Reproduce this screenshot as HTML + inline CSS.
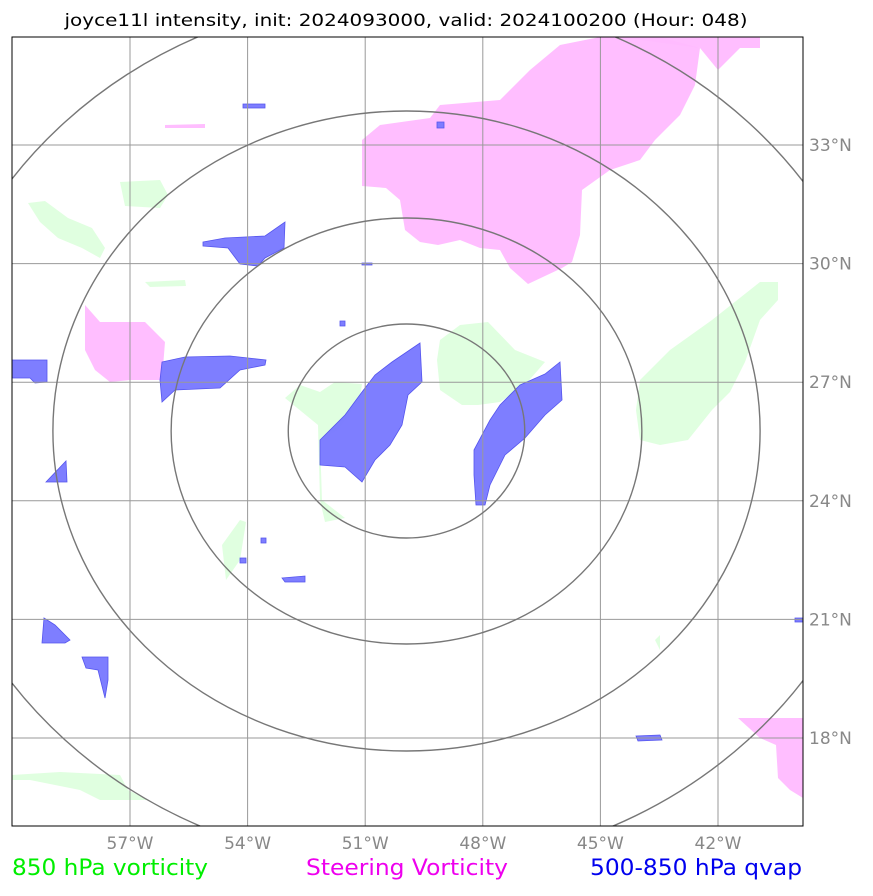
<!DOCTYPE html>
<html><head><meta charset="utf-8"><style>
body{margin:0;background:#fff;width:873px;height:891px;overflow:hidden;font-family:"Liberation Sans","DejaVu Sans",sans-serif}
</style></head><body>
<svg width="873" height="891" xmlns="http://www.w3.org/2000/svg">
<text x="406" y="26" text-anchor="middle" font-size="17" textLength="683" lengthAdjust="spacingAndGlyphs" fill="#000" font-family="DejaVu Sans, sans-serif">joyce11l intensity, init: 2024093000, valid: 2024100200 (Hour: 048)</text>
<defs><clipPath id="c"><rect x="12" y="37" width="791" height="789"/></clipPath></defs>
<g clip-path="url(#c)" id="map">
<g fill="#ddffdd" fill-opacity="0.9">
<polygon points="120,182 160,180 168,195 160,208 125,206"/>
<polygon points="28,203 45,201 68,218 92,228 105,248 100,258 82,248 58,238 40,222"/>
<polygon points="145,282 185,280 186,286 150,287"/>
<polygon points="440,340 460,325 488,322 515,350 545,362 525,385 500,402 478,405 462,405 440,390 437,360"/>
<polygon points="285,398 300,385 320,392 335,382 362,384 360,398 338,430 320,440 322,500 345,518 325,522 320,500 318,425"/>
<polygon points="640,380 670,350 712,320 760,282 778,282 778,300 760,320 745,362 730,392 712,410 688,440 660,445 640,440 636,410"/>
<polygon points="222,545 240,520 246,522 240,560 226,580"/>
<polygon points="12,775 60,772 120,775 128,790 148,800 100,800 80,790 30,780 12,780"/>
<polygon points="655,640 660,635 660,650"/>
</g>
<g fill="#ffbbff" fill-opacity="0.95">
<polygon points="362,140 380,125 430,118 440,105 500,100 530,70 560,45 600,37 660,37 700,48 695,85 680,115 655,140 640,160 610,170 582,190 580,235 572,262 562,268 528,284 510,268 500,250 480,248 460,240 438,245 420,242 405,230 400,200 386,188 362,186"/>
<polygon points="620,37 745,37 760,37 760,48 740,48 718,70 700,48"/>
<polygon points="85,305 100,322 145,322 165,342 162,380 130,380 110,382 95,370 85,350"/>
<polygon points="165,125 205,124 205,128 165,128"/>
<polygon points="738,718 803,718 803,798 790,790 778,778 776,745 760,738"/>
</g>
<g fill="#7777ff" fill-opacity="0.95" stroke="#5555ee" stroke-width="0.8">
<polygon points="320,440 345,415 362,392 375,375 392,362 420,343 422,382 408,395 402,425 390,445 375,460 362,482 345,467 320,465"/>
<polygon points="474,450 490,420 500,405 520,385 545,374 560,362 562,400 545,415 525,438 505,455 490,485 485,505 476,505 474,475"/>
<polygon points="162,362 185,357 230,356 266,360 265,365 240,370 220,388 175,390 162,402 160,380"/>
<polygon points="203,242 225,238 265,236 285,222 284,248 265,258 258,266 240,264 228,248 203,246"/>
<polygon points="12,360 47,360 47,382 35,383 30,378 12,378"/>
<polygon points="46,482 66,461 67,482"/>
<polygon points="44,618 55,625 70,640 65,643 42,643"/>
<polygon points="82,657 108,657 108,680 105,698 98,670 86,668"/>
<polygon points="243,104 265,104 265,108 243,108"/>
<polygon points="282,578 305,576 305,582 285,582"/>
<polygon points="636,736 660,735 662,740 638,741"/>
<polygon points="240,558 246,558 246,563 240,563"/>
<polygon points="437,122 444,122 444,128 437,128"/>
<polygon points="340,321 345,321 345,326 340,326"/>
<polygon points="261,538 266,538 266,543 261,543"/>
<polygon points="795,618 803,618 803,622 795,622"/>
<polygon points="362,263 372,263 372,265 362,265"/>
</g>
<g id="grid" stroke="#999" stroke-width="1" fill="none"></g>
<g id="rings" stroke="#777" stroke-width="1.4" fill="none"></g>
</g>
<rect x="12" y="37" width="791" height="789" fill="none" stroke="#000" stroke-width="1"/>
<g id="labels" font-family="DejaVu Sans, sans-serif" font-size="17" fill="#888"></g>
<text x="12" y="875" font-size="22" textLength="196" lengthAdjust="spacingAndGlyphs" fill="#00ee00" font-family="DejaVu Sans, sans-serif">850 hPa vorticity</text>
<text x="306" y="875" font-size="22" textLength="202" lengthAdjust="spacingAndGlyphs" fill="#ee00ee" font-family="DejaVu Sans, sans-serif">Steering Vorticity</text>
<text x="590" y="875" font-size="22" textLength="212" lengthAdjust="spacingAndGlyphs" fill="#0000ee" font-family="DejaVu Sans, sans-serif">500-850 hPa qvap</text>
</svg>
<script>
const lonTicks=[-57,-54,-51,-48,-45,-42];
const latTicks=[33,30,27,24,21,18];
const ringRadii=[107,213,320,437];
const cx=406.5,cy=431,xStretch=1.105;
function xs(lon){return 130+(lon+57)*(588/15);}
function ys(lat){return 145+(33-lat)*(593/15);}
const NS='http://www.w3.org/2000/svg';
const grid=document.getElementById('grid'),lab=document.getElementById('labels'),rings=document.getElementById('rings');
lonTicks.forEach(l=>{
 const ln=document.createElementNS(NS,'line');
 ln.setAttribute('x1',xs(l));ln.setAttribute('x2',xs(l));ln.setAttribute('y1',37);ln.setAttribute('y2',826);
 
 
 grid.appendChild(ln);
 const t=document.createElementNS(NS,'text');
 t.setAttribute('x',xs(l));t.setAttribute('y',849);t.setAttribute('text-anchor','middle');
 t.textContent=Math.abs(l)+'°W';
 
 
 lab.appendChild(t);
});
latTicks.forEach(l=>{
 const ln=document.createElementNS(NS,'line');
 ln.setAttribute('y1',ys(l));ln.setAttribute('y2',ys(l));ln.setAttribute('x1',12);ln.setAttribute('x2',803);
 
 
 grid.appendChild(ln);
 const t=document.createElementNS(NS,'text');
 t.setAttribute('x',809);t.setAttribute('y',ys(l)+6);
 t.textContent=l+'°N';
 
 
 lab.appendChild(t);
});
ringRadii.forEach(r=>{
 const c=document.createElementNS(NS,'ellipse');
 c.setAttribute('cx',cx);c.setAttribute('cy',cy);c.setAttribute('rx',r*xStretch);c.setAttribute('ry',r);
 
 
 rings.appendChild(c);
});
</script>
</body></html>
